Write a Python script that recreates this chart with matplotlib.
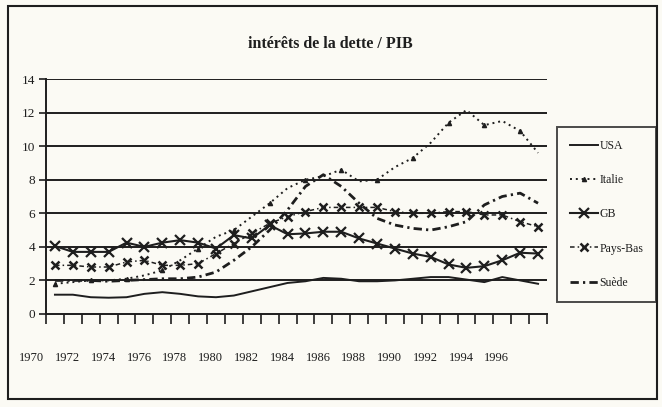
import matplotlib
matplotlib.use("Agg")
import matplotlib.pyplot as plt
from matplotlib.patches import Rectangle
from matplotlib.transforms import blended_transform_factory

# values
years = list(range(1970, 1998))
usa = [1.15, 1.15, 1.0, 0.97, 1.0, 1.2, 1.3, 1.2, 1.05, 1.0, 1.1, 1.35, 1.6, 1.85,
       1.95, 2.15, 2.1, 1.95, 1.95, 2.0, 2.1, 2.2, 2.2, 2.05, 1.9, 2.2, 2.0, 1.8]
italie = [1.8, 1.9, 2.0, 2.0, 2.1, 2.3, 2.6, 3.2, 3.9, 4.6, 5.0, 5.8, 6.6, 7.5,
          8.0, 8.2, 8.6, 7.9, 8.0, 8.75, 9.3, 10.2, 11.4, 12.15, 11.25, 11.5, 10.9, 9.6]
gb = [4.05, 3.7, 3.7, 3.7, 4.25, 4.0, 4.25, 4.4, 4.25, 3.9, 4.7, 4.5, 5.3, 4.75,
      4.8, 4.9, 4.9, 4.5, 4.2, 3.9, 3.6, 3.4, 2.95, 2.75, 2.85, 3.2, 3.65, 3.6]
pays_bas = [2.9, 2.9, 2.8, 2.8, 3.1, 3.2, 2.9, 2.9, 3.0, 3.6, 4.2, 4.8, 5.4, 5.8,
            6.1, 6.35, 6.35, 6.35, 6.35, 6.1, 6.0, 6.0, 6.1, 6.1, 5.9, 5.9, 5.5, 5.2]
suede = [2.0, 2.0, 2.0, 1.95, 2.0, 2.05, 2.1, 2.1, 2.2, 2.5, 3.2, 4.0, 5.0, 6.2,
         7.6, 8.3, 7.6, 6.6, 5.7, 5.3, 5.1, 5.0, 5.2, 5.5, 6.5, 7.0, 7.2, 6.6]
year_labels = [str(y) for y in range(1970, 1997, 2)]
yticks = [0, 2, 4, 6, 8, 10, 12, 14]

serif = "Liberation Serif"
ink = "#1e1e1e"
paper = "#fbfaf4"

fig = plt.figure(figsize=(6.62, 4.07), dpi=100, facecolor=paper)
ax = fig.add_axes([46 / 662, 1 - 314 / 407, 501 / 662, 235 / 407])
ax.set_facecolor(paper)

x = list(range(len(years)))
ax.plot(x, usa, color=ink, lw=1.4, label="USA")
ax.plot(x, italie, color=ink, lw=1.4, ls=(0, (1, 2)), marker="^", ms=3,
        markevery=2, label="Italie")
ax.plot(x, gb, color=ink, lw=1.5, marker="x", ms=7, mew=1.6, label="GB")
ax.plot(x, pays_bas, color=ink, lw=1.1, ls=(0, (3, 2, 1, 2)), marker="x", ms=6,
        mew=1.8, label="Pays-Bas")
ax.plot(x, suede, color=ink, lw=2.0, ls=(0, (3, 1.5, 0.8, 1.5)), label="Suède")

# horizontal rules
for v in yticks[1:]:
    ax.axhline(v, color=ink, lw=1.4, zorder=0)

ax.set_xlim(-0.5, len(years) - 0.5)
ax.set_ylim(0, 14)
ax.set_yticks(yticks)
ax.set_yticklabels([str(v) for v in yticks], family=serif, fontsize=9.5, color=ink)
ax.set_xticks([i - 0.5 for i in range(len(years) + 1)])
ax.set_xticklabels([])
ax.tick_params(axis="x", direction="out", length=7, width=1.2, color=ink)
ax.tick_params(axis="y", direction="out", length=5, width=1.2, color=ink, pad=3)
for side in ("top", "right"):
    ax.spines[side].set_visible(False)
for side in ("left", "bottom"):
    ax.spines[side].set_color(ink)
    ax.spines[side].set_linewidth(1.4)

# year labels sit below the axis, shifted left of their categories
tr = blended_transform_factory(ax.transData, ax.transAxes)
for k, lab in enumerate(year_labels):
    ax.text(2 * k - 1.3, -0.187, lab, transform=tr, ha="center", va="center",
            family=serif, fontsize=9, color=ink, clip_on=False)

fig.text(330 / 662, 1 - 44 / 407, "intérêts de la dette / PIB", ha="center",
         va="center", family=serif, fontsize=11.5, fontweight="bold", color=ink)

leg = ax.legend(loc="upper left", bbox_to_anchor=(557 / 662, 1 - 127 / 407),
                bbox_transform=fig.transFigure, frameon=True, fancybox=False,
                prop={"family": serif, "size": 8.5}, handlelength=2.4,
                handletextpad=0.1, labelspacing=1.88, borderpad=1.1,
                borderaxespad=0)
leg.get_frame().set_edgecolor(ink)
leg.get_frame().set_linewidth(1.4)
leg.get_frame().set_facecolor(paper)
for t in leg.get_texts():
    t.set_color(ink)

fig.patches.append(Rectangle((8 / 662, 1 - 399 / 407), 649 / 662, 393 / 407,
                             transform=fig.transFigure, fill=False,
                             edgecolor=ink, lw=1.5))

fig.savefig("out.png", dpi=100, facecolor=paper)
